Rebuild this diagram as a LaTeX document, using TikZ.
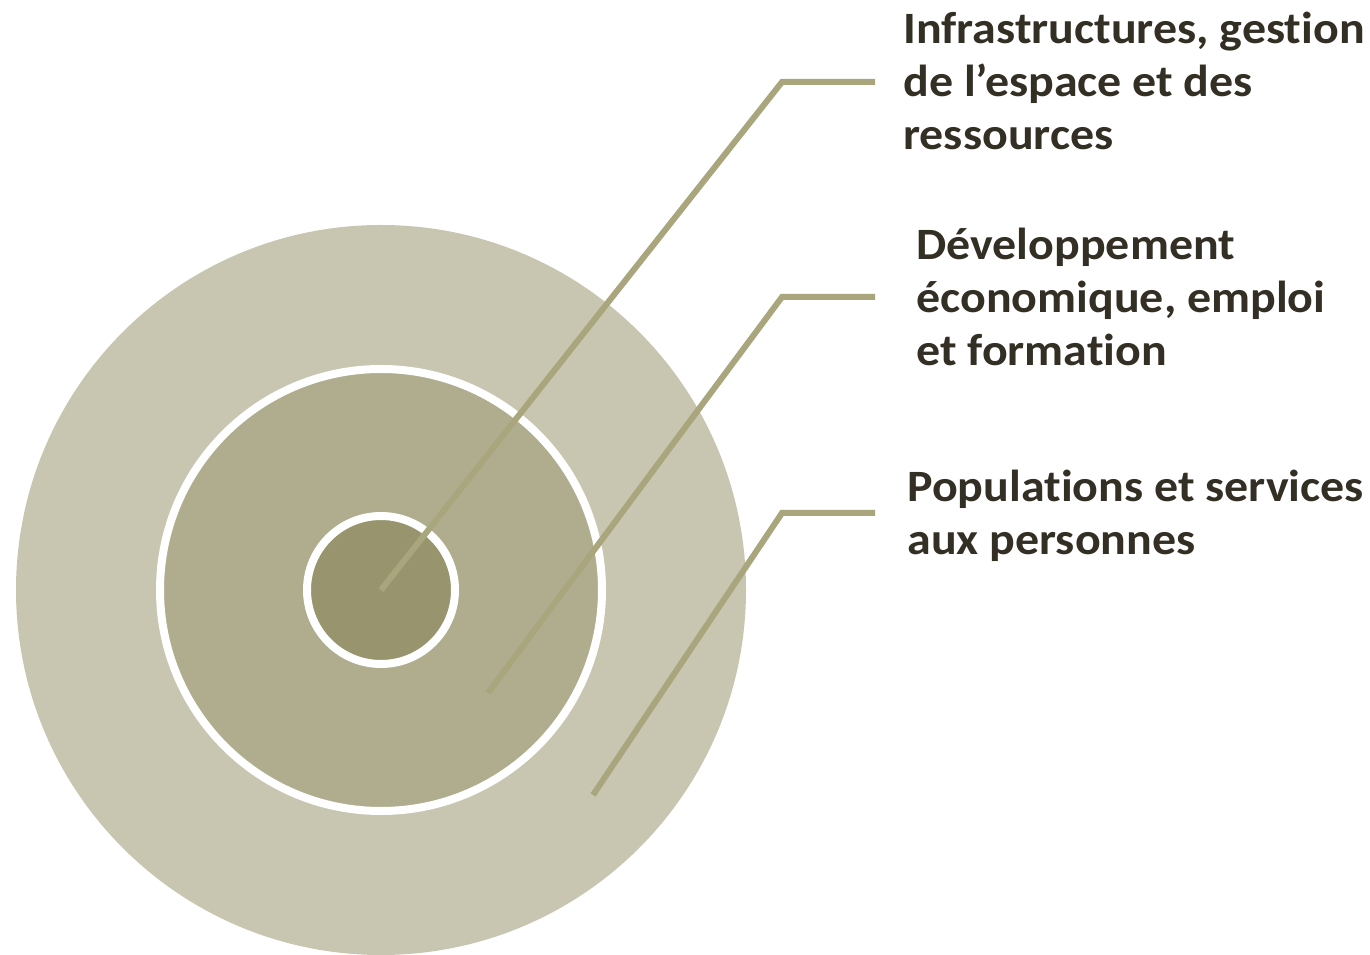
\documentclass[tikz,border=0pt]{standalone}
\usepackage{fontspec}
\setmainfont{Carlito}[Ligatures=NoCommon, FakeStretch=1.07]
\definecolor{ringout}{HTML}{C8C6B1}
\definecolor{ringmid}{HTML}{B0AD8F}
\definecolor{ringin}{HTML}{98946E}
\definecolor{leadcol}{HTML}{A9A67D}
\definecolor{txtcol}{HTML}{332F25}
\begin{document}
\begin{tikzpicture}[
    gap/.style={draw=white, line width=0.16cm},
    lead/.style={draw=leadcol, line width=0.12cm, line join=miter},
    lbl/.style={anchor=base west, inner sep=0pt, align=left, text=txtcol,
        font=\fontsize{25.5}{30.2}\selectfont\bfseries}
]
    \useasboundingbox (0,0) rectangle (27.4,19.08);

    % Three nested discs
    \coordinate (c) at (7.62,7.28);
    \fill[ringout] (c) circle (7.3);
    \fill[ringmid] (c) circle (4.42);
    \draw[gap] (c) circle (4.42);
    \fill[ringin] (c) circle (1.48);
    \draw[gap] (c) circle (1.48);

    % Labels (anchored on the last line)
    \node[lbl] (infra) at (18.06,16.08) {Infrastructures, gestion\\de l’espace et des\\ressources};
    \node[lbl] (dev) at (18.32,11.76) {Développement\\économique, emploi\\et formation};
    \node[lbl] (pop) at (18.14,7.98) {Populations et services\\aux personnes};

    % Leader lines
    \coordinate (s1) at (c);
    \coordinate (k1) at (15.64,17.44);
    \coordinate (e1) at (17.5,17.44);
    \coordinate (s2) at (9.76,5.22);
    \coordinate (k2) at (15.64,13.14);
    \coordinate (e2) at (17.5,13.14);
    \coordinate (s3) at (11.86,3.18);
    \coordinate (k3) at (15.64,8.82);
    \coordinate (e3) at (17.5,8.82);
    \draw[lead] (s1) -- (k1) -- (e1);
    \draw[lead] (s2) -- (k2) -- (e2);
    \draw[lead] (s3) -- (k3) -- (e3);
\end{tikzpicture}
\end{document}
